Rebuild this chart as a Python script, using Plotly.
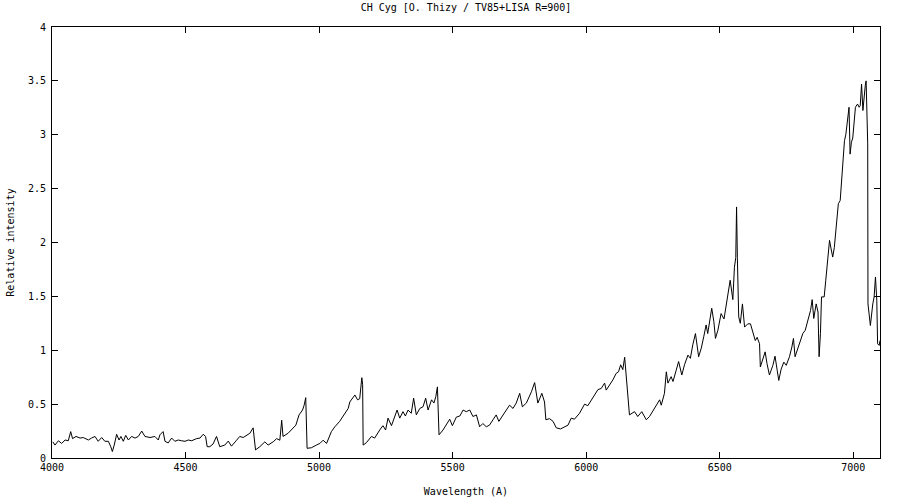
import plotly.graph_objects as go

wavelength = [
    4003, 4011, 4024, 4036, 4049, 4061, 4070, 4077, 4090, 4105, 4117, 4136, 4148, 4161, 4173, 4186, 4198,
    4211, 4220, 4226, 4233, 4242, 4251, 4258, 4267, 4276, 4286, 4298, 4311, 4323, 4336, 4348, 4367, 4385,
    4398, 4404, 4416, 4423, 4435, 4448, 4460, 4473, 4485, 4498, 4510, 4523, 4541, 4554, 4566, 4575, 4581,
    4588, 4591, 4603, 4616, 4628, 4647, 4660, 4672, 4691, 4703, 4716, 4728, 4741, 4753, 4762, 4778, 4797,
    4809, 4828, 4841, 4853, 4860, 4865, 4884, 4897, 4913, 4925, 4938, 4944, 4950, 4955, 4971, 4990, 5003,
    5015, 5028, 5046, 5059, 5077, 5096, 5109, 5115, 5125, 5134, 5144, 5152, 5160, 5163, 5165, 5177, 5196,
    5208, 5227, 5239, 5249, 5258, 5271, 5283, 5292, 5302, 5314, 5323, 5333, 5345, 5354, 5364, 5377, 5389,
    5399, 5408, 5421, 5430, 5437, 5443, 5449, 5464, 5476, 5489, 5499, 5514, 5527, 5539, 5551, 5564, 5576,
    5589, 5601, 5613, 5626, 5638, 5651, 5663, 5673, 5688, 5701, 5713, 5726, 5738, 5751, 5761, 5776, 5795,
    5807, 5819, 5834, 5844, 5849, 5863, 5876, 5888, 5904, 5919, 5932, 5944, 5956, 5975, 5994, 6006, 6025,
    6044, 6056, 6069, 6075, 6088, 6100, 6112, 6121, 6129, 6137, 6144, 6150, 6154, 6162, 6181, 6193, 6208,
    6225, 6237, 6256, 6275, 6281, 6293, 6300, 6306, 6318, 6325, 6337, 6346, 6358, 6368, 6381, 6390, 6399,
    6409, 6421, 6431, 6440, 6449, 6455, 6461, 6470, 6478, 6484, 6493, 6505, 6516, 6528, 6539, 6549, 6555,
    6560, 6563, 6566, 6571, 6577, 6585, 6593, 6605, 6615, 6624, 6633, 6640, 6649, 6652, 6661, 6670, 6677,
    6686, 6699, 6707, 6715, 6721, 6730, 6740, 6749, 6761, 6770, 6776, 6782, 6793, 6803, 6811, 6820, 6830,
    6840, 6846, 6852, 6861, 6868, 6872, 6877, 6881, 6891, 6897, 6903, 6911, 6917, 6923, 6929, 6936, 6944,
    6951, 6956, 6961, 6967, 6972, 6979, 6984, 6988, 6993, 6998, 7003, 7008, 7016, 7022, 7026, 7031, 7036,
    7041, 7045, 7048, 7051, 7054, 7055, 7060, 7064, 7073, 7078, 7083, 7088, 7091, 7097, 7100,
]

intensity = [
    0.15, 0.12, 0.16, 0.135, 0.167, 0.16, 0.245, 0.18, 0.2, 0.185, 0.19, 0.167, 0.185, 0.2, 0.155, 0.19, 0.155,
    0.155, 0.105, 0.06, 0.12, 0.22, 0.167, 0.2, 0.155, 0.21, 0.167, 0.2, 0.185, 0.2, 0.25, 0.2, 0.19, 0.2,
    0.167, 0.215, 0.245, 0.155, 0.14, 0.185, 0.155, 0.167, 0.16, 0.155, 0.167, 0.16, 0.18, 0.185, 0.22, 0.2, 0.105,
    0.1, 0.105, 0.13, 0.2, 0.105, 0.12, 0.157, 0.11, 0.165, 0.2, 0.19, 0.21, 0.23, 0.28, 0.075, 0.105, 0.15,
    0.12, 0.15, 0.18, 0.165, 0.35, 0.2, 0.23, 0.26, 0.305, 0.4, 0.445, 0.49, 0.56, 0.09, 0.095, 0.12, 0.135,
    0.165, 0.135, 0.245, 0.29, 0.34, 0.415, 0.46, 0.52, 0.55, 0.585, 0.54, 0.55, 0.745, 0.68, 0.12, 0.142, 0.2,
    0.185, 0.26, 0.3, 0.26, 0.37, 0.3, 0.385, 0.445, 0.37, 0.43, 0.39, 0.445, 0.415, 0.555, 0.4, 0.46, 0.475,
    0.555, 0.445, 0.54, 0.51, 0.57, 0.66, 0.215, 0.26, 0.305, 0.36, 0.3, 0.38, 0.39, 0.445, 0.43, 0.445, 0.385,
    0.4, 0.29, 0.32, 0.29, 0.305, 0.355, 0.4, 0.34, 0.4, 0.445, 0.49, 0.46, 0.51, 0.6, 0.475, 0.51, 0.615,
    0.7, 0.51, 0.6, 0.52, 0.355, 0.365, 0.34, 0.28, 0.27, 0.29, 0.305, 0.37, 0.36, 0.415, 0.5, 0.485, 0.56,
    0.635, 0.645, 0.695, 0.63, 0.68, 0.725, 0.785, 0.8, 0.865, 0.82, 0.935, 0.725, 0.63, 0.4, 0.43, 0.385, 0.43,
    0.355, 0.385, 0.46, 0.54, 0.49, 0.6, 0.8, 0.695, 0.755, 0.71, 0.815, 0.895, 0.77, 0.865, 0.955, 0.925, 1.05,
    1.155, 0.94, 1.02, 1.125, 1.235, 1.155, 1.235, 1.39, 1.265, 1.11, 1.185, 1.34, 1.29, 1.495, 1.65, 1.47, 1.77,
    1.86, 2.33, 1.86, 1.31, 1.25, 1.43, 1.215, 1.245, 1.245, 1.155, 1.09, 1.12, 1.06, 0.845, 0.905, 0.985, 0.875,
    0.77, 0.86, 0.945, 0.815, 0.72, 0.825, 0.89, 0.86, 0.94, 1.03, 1.11, 0.94, 1.02, 1.095, 1.155, 1.185, 1.28,
    1.37, 1.47, 1.295, 1.43, 1.355, 0.94, 1.155, 1.495, 1.495, 1.65, 1.8, 2.02, 1.94, 1.865, 1.955, 2.14, 2.36,
    2.39, 2.575, 2.7, 2.945, 3.0, 3.145, 3.255, 2.82, 2.93, 2.97, 3.1, 3.255, 3.285, 3.255, 3.27, 3.47, 3.225,
    3.41, 3.46, 3.5, 3.24, 2.915, 1.43, 1.31, 1.23, 1.43, 1.495, 1.68, 1.465, 1.06, 1.045, 1.09,
]

x_ticks = [4000, 4500, 5000, 5500, 6000, 6500, 7000]
y_ticks = [0, 0.5, 1, 1.5, 2, 2.5, 3, 3.5, 4]

title_text = "CH Cyg [O. Thizy / TV85+LISA R=900]"
x_title = "Wavelength (A)"
y_title = "Relative intensity"

FONT = "DejaVu Sans Mono"

fig = go.Figure(
    go.Scatter(
        x=wavelength, y=intensity, mode="lines",
        line=dict(color="black", width=1), hoverinfo="x+y",
    )
)

axis_common = dict(
    showgrid=False, zeroline=False, showline=True, linecolor="black", linewidth=1,
    mirror="ticks", ticks="inside", ticklen=6, tickcolor="black", tickwidth=1,
    tickfont=dict(family=FONT, size=10, color="black"), automargin=False,
)

fig.update_layout(
    width=900, height=500,
    margin=dict(l=52, r=20, t=27, b=42),
    paper_bgcolor="white", plot_bgcolor="white",
    showlegend=False,
    title=dict(text=title_text, x=(52 + 880) / 2 / 900, xanchor="center", y=1 - 7 / 500, yanchor="middle",
               font=dict(family=FONT, size=10, color="black")),
    xaxis=dict(range=[4000, 7100], tickvals=x_ticks, ticktext=[str(v) for v in x_ticks],
               title=dict(text=x_title, font=dict(family=FONT, size=10, color="black"), standoff=15),
               ticklabelstandoff=0, **axis_common),
    yaxis=dict(range=[0, 4], tickvals=y_ticks, ticktext=[f"{v:g}" for v in y_ticks],
               title=dict(text=y_title, font=dict(family=FONT, size=10, color="black"), standoff=11),
               ticklabelstandoff=3, **axis_common),
)

fig.write_html(
    "out.html",
    config={"displayModeBar": False},
    post_script="document.body.style.margin='0';document.body.style.overflow='hidden';",
)
